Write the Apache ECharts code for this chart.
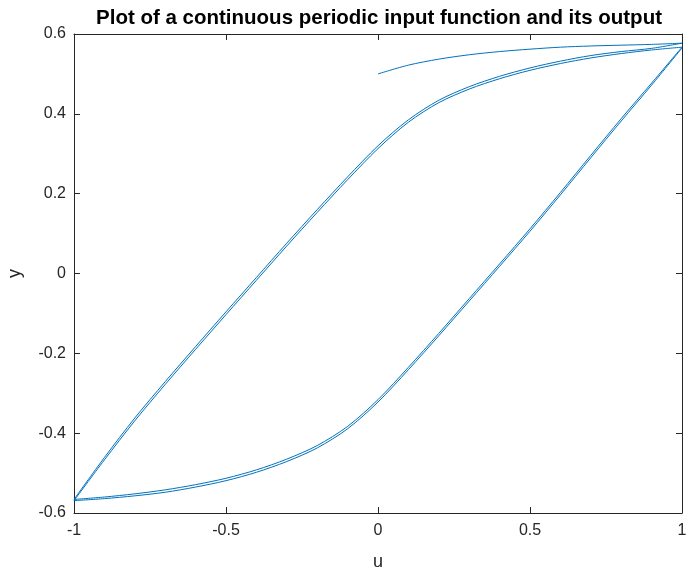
<!DOCTYPE html>
<html>
<head>
<meta charset="utf-8">
<script src="https://cdn.jsdelivr.net/npm/echarts@6/dist/echarts.min.js"></script>
<style>
  html, body { margin: 0; padding: 0; background: #fff; }
  #chart { width: 686px; height: 568px; }
</style>
</head>
<body>
<div id="chart"></div>
<script>
// Input u and output y of the hysteretic system, one periodic sweep at a time.
const titleText = 'Plot of a continuous periodic input function and its output';

// Start-up transient: u rises from 0 to 1
const uStart = [0, 0.1, 0.2, 0.3, 0.4, 0.5, 0.6, 0.7, 0.8, 0.9, 1];
const yStart = [0.5, 0.522, 0.537, 0.548, 0.556, 0.562, 0.567, 0.57, 0.572, 0.574, 0.577];

// Falling sweep: u from 1 down to -1
const uDown = [1, 0.9, 0.8, 0.7, 0.6, 0.5, 0.4, 0.3, 0.2, 0.1, 0, -0.1, -0.2, -0.3, -0.4, -0.5, -0.6, -0.7, -0.8, -0.9, -1];
const yDown1 = [0.577, 0.564, 0.556, 0.546, 0.532, 0.515, 0.494, 0.468, 0.434, 0.385, 0.320, 0.242, 0.160, 0.076, -0.010, -0.096, -0.183, -0.271, -0.362, -0.461, -0.566];
const yDown2 = [0.567, 0.560, 0.551, 0.540, 0.526, 0.509, 0.488, 0.462, 0.428, 0.379, 0.313, 0.235, 0.153, 0.069, -0.017, -0.103, -0.190, -0.278, -0.369, -0.467, -0.569];

// Rising sweep: u from -1 up to 1
const uUp = [-1, -0.9, -0.8, -0.7, -0.6, -0.5, -0.4, -0.3, -0.2, -0.1, 0, 0.1, 0.2, 0.3, 0.4, 0.5, 0.6, 0.7, 0.8, 0.9, 1];
const yUp1 = [-0.566, -0.560, -0.552, -0.542, -0.529, -0.513, -0.492, -0.465, -0.431, -0.383, -0.316, -0.235, -0.150, -0.063, 0.024, 0.112, 0.203, 0.296, 0.388, 0.477, 0.567];
const yUp2 = [-0.569, -0.564, -0.557, -0.548, -0.535, -0.519, -0.498, -0.471, -0.437, -0.389, -0.322, -0.241, -0.156, -0.069, 0.018, 0.106, 0.197, 0.290, 0.382, 0.472, 0.565];

const xTicks = { min: -1, max: 1, interval: 0.5 };
const yTicks = { min: -0.6, max: 0.6, interval: 0.2 };

function pairs(us, ys) { return us.map((u, i) => [u, ys[i]]); }

const trace = [].concat(
  pairs(uStart, yStart),
  pairs(uDown, yDown1).slice(1),
  pairs(uUp, yUp1).slice(1),
  pairs(uDown, yDown2).slice(1),
  pairs(uUp, yUp2).slice(1)
);

const axisColor = '#262626';
const font = 'Liberation Sans, Arial, Helvetica, sans-serif';

function xAxisDef(pos, show) {
  return {
    type: 'value', position: pos, min: xTicks.min, max: xTicks.max, interval: xTicks.interval,
    name: show ? 'u' : '', nameLocation: 'middle', nameGap: 40,
    nameTextStyle: { color: axisColor, fontFamily: font, fontSize: 18 },
    axisLine: { show: true, onZero: false, lineStyle: { color: axisColor, width: 1 } },
    axisTick: { show: true, inside: true, length: 6, lineStyle: { color: axisColor } },
    axisLabel: { show: show, color: axisColor, fontFamily: font, fontSize: 16, margin: 10 },
    splitLine: { show: false }
  };
}
function yAxisDef(pos, show) {
  return {
    type: 'value', position: pos, min: yTicks.min, max: yTicks.max, interval: yTicks.interval,
    name: show ? 'y' : '', nameLocation: 'middle', nameGap: 50,
    nameTextStyle: { color: axisColor, fontFamily: font, fontSize: 18 },
    axisLine: { show: true, onZero: false, lineStyle: { color: axisColor, width: 1 } },
    axisTick: { show: true, inside: true, length: 6, lineStyle: { color: axisColor } },
    axisLabel: { show: show, color: axisColor, fontFamily: font, fontSize: 16, margin: 8,
                 formatter: v => String(Math.round(v * 10) / 10) },
    splitLine: { show: false }
  };
}

const chart = echarts.init(document.getElementById('chart'), null, { renderer: 'canvas' });
chart.setOption({
  animation: false,
  backgroundColor: '#ffffff',
  title: {
    text: titleText, left: 374, top: 3, textAlign: 'center',
    textStyle: { fontFamily: font, fontWeight: 'bold', fontSize: 20.5, color: '#000' }
  },
  grid: { left: 74, right: 4, top: 34, bottom: 55, containLabel: false, outerBoundsMode: 'none' },
  xAxis: [xAxisDef('bottom', true), xAxisDef('top', false)],
  yAxis: [yAxisDef('left', true), yAxisDef('right', false)],
  series: [{
    type: 'line', xAxisIndex: 0, yAxisIndex: 0,
    data: trace, smooth: 0.3, showSymbol: false, symbol: 'none',
    lineStyle: { color: '#0072BD', width: 1 }
  }]
});
</script>
</body>
</html>
